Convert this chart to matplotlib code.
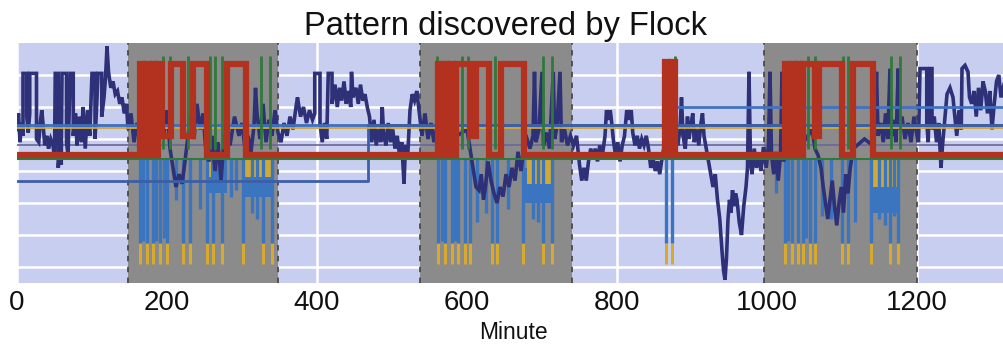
import matplotlib.pyplot as plt

plt.rcParams['font.family'] = ['Liberation Sans', 'DejaVu Sans']

# shaded pattern windows (minutes)
shade_start = [148, 537, 996]
shade_end = [348, 740, 1200]
tick_vals = [0, 200, 400, 600, 800, 1000, 1200]

# red step series: change minute -> level
red_t = [0, 164, 168, 172, 176, 180, 184, 188, 193, 206, 222, 235, 253, 280, 306,
         562, 566, 570, 574, 578, 582, 586, 604, 612, 630, 645, 676,
         864, 868, 872, 877,
         1024, 1028, 1032, 1036, 1040, 1044, 1048, 1064, 1070, 1100, 1115, 1141, 1316]
red_v = [4.0, 6.85, 4.0, 6.85, 4.0, 6.85, 4.0, 6.85, 4.6, 6.85, 4.6, 6.85, 4.0, 6.85, 4.0,
         6.85, 4.0, 6.85, 4.0, 6.85, 4.0, 6.85, 4.6, 6.85, 4.0, 6.85, 4.0,
         6.9, 4.0, 6.9, 4.0,
         6.85, 4.0, 6.85, 4.0, 6.85, 4.0, 6.85, 4.6, 6.85, 4.0, 6.85, 4.0, 4.0]

navy_a = [(0, 4.8), (2, 5.3), (4, 4.4), (6, 5.0), (8, 4.6), (8, 6.55), (13, 6.55), (13, 5.2),
          (15, 4.7), (17, 5.3), (17, 6.55), (26, 6.55), (26, 4.5), (29, 4.4), (31, 5.0), (33, 5.4),
          (35, 4.9), (37, 4.3), (40, 4.6), (42, 4.2), (45, 4.5), (48, 4.3), (50, 3.9), (51, 6.55),
          (55, 6.55), (55, 3.6), (57, 4.2), (59, 3.7), (60, 6.55), (66, 6.55), (66, 4.4), (68, 4.0),
          (71, 6.55), (75, 6.55), (75, 4.6), (78, 5.3), (80, 4.3), (83, 5.2), (86, 4.4), (88, 5.5),
          (91, 4.2), (94, 5.4), (97, 4.6), (100, 6.55), (104, 6.55), (104, 4.5), (106, 5.4),
          (108, 6.55), (113, 6.55), (113, 5.2), (116, 5.8), (118, 6.4), (120, 7.4), (122, 6.6),
          (125, 6.1), (128, 6.3), (131, 5.9), (134, 6.0), (137, 5.6), (140, 5.8), (143, 5.3), (146, 5.6)]
navy_g1 = [(148, 4.8), (152, 5.3), (156, 4.4), (160, 5.0), (164, 4.5), (170, 5.2), (176, 4.6),
           (182, 5.3), (188, 4.7), (192, 5.1), (196, 4.7), (200, 5.4), (204, 4.2), (208, 3.6),
           (212, 3.0), (216, 3.4), (220, 3.1), (224, 3.8), (228, 4.6), (232, 5.2), (236, 4.5),
           (240, 5.6), (244, 4.8), (248, 5.3), (252, 4.1), (256, 3.8), (260, 4.6), (264, 3.5),
           (268, 4.4), (272, 3.2), (276, 4.5), (280, 4.9), (284, 4.3), (290, 5.2), (296, 4.6),
           (300, 5.0), (304, 4.2), (308, 4.6), (312, 4.1), (316, 4.9), (318, 6.1), (320, 5.3),
           (324, 4.5), (328, 5.6), (332, 4.4), (336, 5.1), (340, 4.6), (344, 5.4)]
navy_b = [(348, 4.7), (352, 4.4), (356, 5.0), (360, 4.6), (364, 5.2), (368, 4.8), (372, 5.5),
          (374, 5.8), (378, 5.2), (382, 5.5), (386, 5.0), (390, 5.4), (394, 5.1), (397, 5.3),
          (397, 6.55), (404, 6.55), (404, 5.0), (407, 4.4), (410, 5.0), (413, 4.5), (415, 6.55),
          (420, 6.55), (420, 5.6), (424, 6.2), (427, 5.5), (430, 6.1), (433, 5.7), (436, 6.3),
          (439, 5.6), (442, 6.0), (445, 5.5), (446, 6.6), (448, 5.8), (452, 6.1), (455, 5.6),
          (458, 6.2), (461, 5.7), (464, 5.9), (467, 5.5), (470, 5.2), (473, 4.4), (476, 5.1),
          (479, 4.3), (482, 4.8), (485, 4.4), (487, 5.5), (489, 4.6), (492, 4.3), (495, 5.0),
          (498, 4.4), (501, 4.8), (504, 4.2), (507, 4.6), (510, 4.0), (513, 4.4), (516, 3.1),
          (518, 4.3), (521, 4.0), (524, 5.4), (527, 5.9), (530, 5.7), (533, 6.0), (536, 5.4)]
navy_g2 = [(537, 5.2), (540, 4.6), (544, 5.3), (548, 4.5), (552, 5.0), (556, 4.4), (560, 4.9),
           (564, 4.3), (580, 4.5), (600, 4.8), (604, 4.2), (608, 3.6), (612, 3.0), (616, 2.9),
           (619, 3.4), (622, 2.6), (625, 3.1), (628, 3.8), (632, 3.2), (636, 2.8), (640, 2.5),
           (644, 3.0), (648, 2.7), (652, 3.4), (656, 3.0), (660, 3.6), (664, 3.2), (668, 4.1),
           (672, 3.5), (676, 4.3), (680, 4.5), (684, 4.2), (688, 4.6), (690, 6.6), (692, 4.4),
           (696, 4.8), (700, 6.6), (702, 4.3), (706, 4.7), (710, 4.2), (715, 6.6), (717, 4.5),
           (720, 4.9), (724, 6.6), (726, 4.4), (730, 4.8), (734, 4.3), (738, 4.6)]
navy_c = [(742, 4.3), (746, 4.6), (750, 3.7), (753, 3.2), (756, 3.6), (759, 3.2), (762, 3.8),
          (765, 4.2), (768, 3.9), (771, 4.2), (774, 3.8), (777, 4.3), (780, 3.9), (784, 4.6),
          (786, 5.4), (789, 5.1), (791, 5.4), (793, 5.0), (795, 4.5), (798, 4.0), (801, 4.4),
          (804, 3.8), (807, 4.3), (810, 4.6), (813, 5.4), (816, 5.1), (819, 5.4), (821, 4.7),
          (824, 4.3), (827, 4.6), (830, 4.2), (833, 4.5), (836, 4.3), (839, 4.6), (842, 4.2),
          (845, 3.6), (848, 3.9), (851, 3.5), (854, 3.8), (857, 3.4), (860, 3.9), (863, 4.3),
          (866, 4.1), (870, 4.5), (874, 4.2), (878, 4.5), (881, 4.3), (884, 4.8), (886, 5.8),
          (888, 4.6), (891, 4.2), (894, 5.2), (896, 4.5), (899, 5.0), (901, 5.3), (903, 4.4),
          (906, 4.8), (909, 4.3), (912, 5.0), (914, 5.3), (916, 4.6), (919, 4.2), (922, 3.8),
          (925, 3.4), (928, 3.0), (931, 3.4), (934, 2.6), (937, 2.0), (940, 1.0), (942, 0.4),
          (944, 0.1), (946, 0.8), (948, 2.0), (950, 2.6), (952, 2.2), (954, 2.9), (956, 2.4),
          (958, 2.8), (960, 2.6), (963, 1.9), (966, 1.5), (969, 2.4), (972, 3.0), (974, 3.6),
          (976, 6.6), (978, 3.8), (980, 3.4), (983, 4.2), (986, 3.6), (989, 4.0), (992, 3.5), (995, 4.2)]
navy_g3 = [(996, 4.2), (999, 3.6), (1002, 4.3), (1004, 6.6), (1006, 4.0), (1009, 3.4), (1012, 4.1),
           (1015, 3.2), (1018, 4.0), (1020, 6.6), (1022, 3.8), (1025, 4.3), (1040, 4.6), (1052, 4.5),
           (1060, 4.8), (1064, 4.2), (1068, 4.0), (1072, 3.6), (1075, 3.0), (1078, 2.5), (1081, 2.0),
           (1084, 2.6), (1087, 3.2), (1090, 2.4), (1093, 1.8), (1096, 2.5), (1099, 3.0), (1102, 2.2),
           (1105, 3.4), (1108, 2.8), (1111, 3.6), (1115, 4.2), (1130, 4.5), (1141, 4.3), (1144, 5.2),
           (1146, 6.6), (1148, 4.6), (1152, 5.0), (1155, 4.4), (1158, 5.3), (1161, 4.5), (1164, 6.7),
           (1166, 4.6), (1169, 5.1), (1172, 4.4), (1175, 6.7), (1177, 4.8), (1180, 5.2), (1184, 4.5),
           (1188, 5.0), (1192, 4.4), (1196, 5.2)]
navy_d = [(1200, 4.6), (1202, 4.4), (1204, 6.7), (1213, 6.7), (1213, 5.0), (1215, 4.4), (1217, 6.7),
          (1220, 6.7), (1220, 4.8), (1223, 5.2), (1226, 4.4), (1229, 5.0), (1232, 3.6), (1234, 4.3),
          (1237, 5.1), (1240, 5.9), (1244, 6.1), (1248, 5.8), (1250, 5.3), (1253, 4.6), (1256, 5.4),
          (1259, 4.8), (1260, 6.7), (1264, 6.8), (1268, 6.6), (1270, 5.8), (1273, 5.6), (1276, 6.0),
          (1279, 5.2), (1282, 6.1), (1285, 5.4), (1288, 6.3), (1291, 6.0), (1294, 5.3), (1297, 6.0),
          (1300, 4.8), (1303, 5.6), (1306, 6.3), (1309, 6.5), (1312, 5.8), (1316, 6.2)]

# flat reference levels
blue_level = 4.94
gold_level = 4.85
purple_level = 4.3
green_level = 3.86
low_blue_t = [0, 468, 1316]
low_blue_v = [3.2, 4.94, 4.94]
high_blue_t = [878, 878, 1316]
high_blue_v = [4.94, 5.5, 5.5]

# spikes inside the windows
yellow_t = [164, 173, 181, 191, 200, 221, 231, 253, 261, 273, 301, 328, 340,
            561, 571, 580, 588, 597, 604, 633, 640, 675, 701, 713, 865, 873,
            1024, 1033, 1041, 1048, 1057, 1064, 1100, 1108, 1139, 1164, 1175]
yellow_lo, yellow_hi = 0.6, 1.25
extra_blue_t = [168, 186, 196, 212, 244, 286, 292, 314, 320, 567, 584, 613, 626, 655, 688, 695,
                1012, 1028, 1052, 1074, 1086, 1118, 1150, 1158, 1170]
extra_blue_lo = [1.3, 1.3, 1.4, 2.6, 2.3, 2.7, 2.9, 2.2, 2.0, 1.3, 1.3, 1.9, 2.2, 2.3, 2.0, 1.9,
                 2.8, 1.3, 1.4, 2.1, 2.0, 1.9, 2.0, 1.8, 2.1]
blue_top = 3.9
green_t = [195, 204, 228, 257, 264, 273, 326, 337, 560, 593, 602, 637, 701, 713, 877,
           1055, 1064, 1102, 1108, 1166, 1177]
green_lo, green_hi = 4.2, 7.1

# dense oscillating patches (start, end, low, high)
blue_bands = [(253, 280, 2.8, 3.9), (302, 340, 2.7, 3.4), (675, 715, 2.5, 3.6), (1140, 1177, 2.2, 3.3)]
yellow_bands = [(255, 259, 3.3, 3.9), (270, 275, 3.3, 3.9), (302, 340, 3.3, 3.9),
                (680, 712, 3.1, 3.9), (1140, 1177, 3.0, 3.9)]

fig = plt.figure(figsize=(10.04, 3.45), dpi=100)
ax = fig.add_axes([17 / 1004, 62 / 345, 987 / 1004, 240 / 345])
ax.set_facecolor('#c8cef0')

for y in [0.5, 1.5, 2.5, 3.5, 4.5, 5.5, 6.5]:
    ax.axhline(y, color='white', lw=1.8, zorder=0.5)
for x in tick_vals:
    ax.axvline(x, color='white', lw=1.8, zorder=0.5)

for s, e in zip(shade_start, shade_end):
    ax.axvspan(s, e, color='#8b8b8b', zorder=1, lw=0)
    ax.axvline(s, color='#4a4a4a', lw=1.3, ls=(0, (3, 3)), zorder=1.1)
    ax.axvline(e, color='#4a4a4a', lw=1.3, ls=(0, (3, 3)), zorder=1.1)

for s, e, lo, hi in blue_bands:
    ax.fill_between([s, e], lo, hi, color='#3b74bf', lw=0, zorder=2)
for s, e, lo, hi in yellow_bands:
    ax.fill_between([s, e], lo, hi, color='#cfa836', lw=0, zorder=2.1)

ax.vlines(yellow_t, yellow_lo, yellow_hi, color='#d6aa30', lw=2.2, zorder=2.2)
ax.vlines(yellow_t, yellow_hi, blue_top, color='#3b74bf', lw=2.4, zorder=2.3)
ax.vlines(extra_blue_t, extra_blue_lo, blue_top, color='#3b74bf', lw=2.4, zorder=2.3)

ax.axhline(purple_level, color='#6a6699', lw=1.2, zorder=2.4)

navy = navy_a + navy_g1 + navy_b + navy_g2 + navy_c + navy_g3 + navy_d
ax.plot([p[0] for p in navy], [p[1] for p in navy], color='#2e3078', lw=2.6,
        solid_joinstyle='miter', zorder=3)

ax.axhline(blue_level, color='#3c6fc0', lw=2.0, zorder=3.5)
ax.axhline(gold_level, color='#cfa836', lw=1.3, zorder=3.6)
ax.step(low_blue_t, low_blue_v, where='post', color='#3b5fa6', lw=2.0, zorder=3.5)
ax.plot(high_blue_t, high_blue_v, color='#3f72c0', lw=2.0, zorder=3.5)

ax.axhline(green_level, color='#2f7a3a', lw=1.5, zorder=3.7)
ax.vlines(green_t, green_lo, green_hi, color='#2f7a3a', lw=2.0, zorder=3.8)

ax.step(red_t, red_v, where='post', color='#b3321f', lw=4.5,
        solid_joinstyle='miter', solid_capstyle='butt', zorder=4)

ax.set_xlim(0, 1316)
ax.set_ylim(0, 7.5)
ax.set_xticks(tick_vals)
ax.set_xticklabels([str(t) for t in tick_vals])
ax.set_yticks([])
ax.tick_params(axis='x', length=0, pad=5, labelsize=20, colors='#111111')
for sp in ax.spines.values():
    sp.set_visible(False)

ax.set_xlabel('Minute', fontsize=16.5, color='#111111')
ax.xaxis.set_label_coords(0.5025, -0.16)
ax.xaxis.label.set_va('top')

ax.set_title('Pattern discovered by Flock', fontsize=23.5, color='#111111')
ax.title.set_position((0.4954, 1.0625))
ax.title.set_va('baseline')

fig.savefig('out.png', dpi=100)
